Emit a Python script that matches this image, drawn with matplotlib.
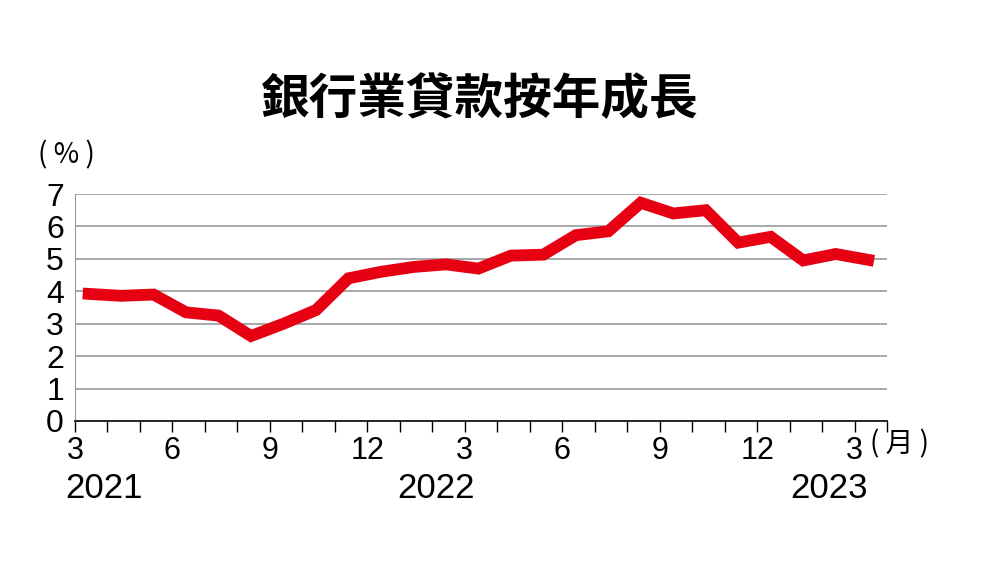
import matplotlib
matplotlib.use("Agg")
import matplotlib.pyplot as plt
import numpy as np

plt.rcParams['font.family'] = ['Noto Sans CJK TC', 'DejaVu Sans']

# monthly loan growth, Mar 2021 .. Mar 2023
growth = [3.92, 3.86, 3.9, 3.35, 3.25, 2.62, 3.0, 3.42, 4.4, 4.6, 4.75, 4.83, 4.7,
          5.1, 5.13, 5.73, 5.85, 6.73, 6.4, 6.5, 5.5, 5.68, 4.95, 5.15, 4.97]
month_labels = ['3', '6', '9', '12', '3', '6', '9', '12', '3']
year_labels = ['2021', '2022', '2023']
year_pos = [-0.3, 11.1, 23.2]

fig = plt.figure(figsize=(9.92, 5.67), dpi=100)
ax = fig.add_axes([75/992, 1-421/567, 812/992, 227/567])

x = np.arange(len(growth)) + 0.42
ax.plot(x, growth, color='#e60012', lw=8.5, solid_joinstyle='miter')

ax.set_xlim(0, 25)
ax.set_ylim(0, 7)
for v in range(1, 8):
    ax.axhline(v, color='#999999', lw=1.2, zorder=0)
ax.set_yticks(range(8))
ax.set_yticklabels([str(v) for v in range(8)], fontsize=23, family='Liberation Sans')
ax.set_xticks(range(0, 25, 3))
ax.set_xticklabels(month_labels, fontsize=22, family='Liberation Sans')
ax.set_xticks(range(26), minor=True)
ax.tick_params(axis='x', which='both', direction='out', length=8, width=1, pad=3)
ax.tick_params(axis='y', length=0, pad=8)
for s in ['top', 'right']:
    ax.spines[s].set_visible(False)
ax.spines['left'].set_color('#999999')
ax.spines['bottom'].set_linewidth(1.2)

for i, (yl, p) in enumerate(zip(year_labels, year_pos)):
    ax.text(p, -2.07, yl, fontsize=25, family='Liberation Sans',
            ha='left' if i == 0 else 'center', va='center')

fig.text(38/992, 1-155/567, '( % )', fontsize=20, va='center')
fig.text(870/992, 1-444/567, '( 月 )', fontsize=20, va='center')
fig.text(480/992, 1-100/567, '銀行業貸款按年成長', fontsize=35, fontweight='bold',
         ha='center', va='center')

fig.savefig('out.png', dpi=100)
